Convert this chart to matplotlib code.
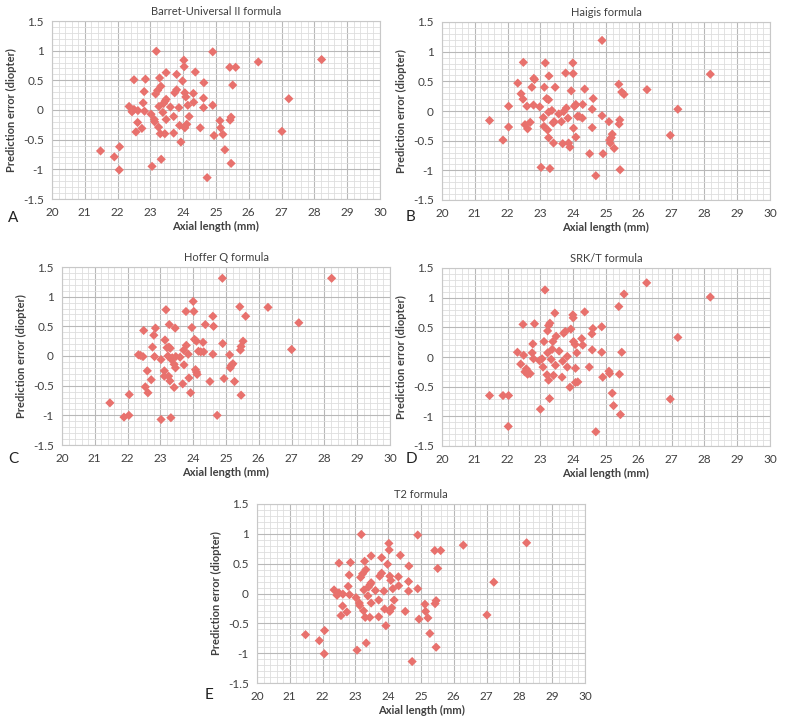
import numpy as np
import matplotlib.pyplot as plt
from matplotlib.ticker import MultipleLocator

# Barret-Universal II formula
barrett_al = [21.48, 21.90, 22.06, 22.05, 22.35, 22.44, 22.50, 22.50, 22.62, 22.61,
              22.56, 22.74, 22.78, 22.81, 22.85, 22.82, 23.18, 23.05, 23.02, 23.12,
              23.13, 23.16, 23.22, 23.28, 23.32, 23.26, 23.25, 23.30, 23.33, 23.38,
              23.40, 23.45, 23.48, 23.48, 23.44, 23.48, 23.61, 23.71, 23.71, 23.74,
              23.80, 23.80, 23.87, 23.89, 23.93, 23.98, 24.02, 24.03, 24.05, 24.08,
              24.05, 24.11, 24.14, 24.18, 24.31, 24.32, 24.37, 24.52, 24.62, 24.62,
              24.63, 24.73, 24.90, 24.90, 24.94, 25.12, 25.14, 25.21, 25.27, 25.42,
              25.60, 25.51, 25.46, 25.43, 25.46, 26.29, 27.01, 27.22, 28.22]
barrett_err = [-0.69, -0.79, -0.62, -1.01, 0.06, -0.03, 0.01, 0.51, -0.01, -0.21,
               -0.37, -0.31, 0.12, 0.31, 0.52, -0.02, 0.99, -0.95, -0.07, -0.16,
               -0.20, 0.27, 0.33, 0.54, 0.40, 0.06, -0.29, -0.40, -0.83, -0.04,
               0.11, 0.15, 0.18, -0.16, -0.40, 0.63, 0.05, -0.11, -0.39, 0.29,
               0.34, 0.60, 0.04, -0.26, -0.54, 0.49, 0.84, 0.73, 0.29, 0.22,
               -0.30, -0.24, 0.08, -0.11, 0.28, 0.13, 0.64, -0.30, 0.20, 0.04,
               0.46, -1.14, 0.08, 0.98, -0.43, -0.18, -0.30, -0.41, -0.67, 0.72,
               0.72, 0.42, -0.12, -0.17, -0.90, 0.81, -0.36, 0.19, 0.85]

# Haigis formula
haigis_al = [21.45, 21.86, 22.03, 22.03, 22.31, 22.41, 22.47, 22.48, 22.53, 22.59,
             22.61, 22.69, 22.74, 22.80, 22.82, 22.79, 22.98, 23.02, 23.09, 23.12,
             23.15, 23.11, 23.19, 23.25, 23.26, 23.22, 23.25, 23.25, 23.29, 23.35,
             23.39, 23.42, 23.45, 23.40, 23.56, 23.64, 23.71, 23.68, 23.77, 23.79,
             23.84, 23.86, 23.90, 23.94, 23.99, 24.00, 24.01, 24.04, 24.08, 24.08,
             24.13, 24.18, 24.28, 24.29, 24.35, 24.50, 24.58, 24.58, 24.61, 24.69,
             24.88, 24.88, 24.91, 25.09, 25.11, 25.13, 25.16, 25.19, 25.25, 25.39,
             25.42, 25.40, 25.43, 25.48, 25.55, 26.25, 26.96, 27.19, 28.18]
haigis_err = [-0.16, -0.49, 0.08, -0.27, 0.47, 0.29, 0.20, 0.82, -0.23, 0.08,
              -0.30, -0.19, 0.40, 0.55, 0.53, 0.10, 0.07, -0.95, -0.11, 0.40,
              0.81, -0.26, 0.21, 0.19, 0.59, -0.32, -0.45, -0.02, -0.97, 0.01,
              -0.20, -0.18, 0.40, -0.54, -0.05, -0.18, -0.01, -0.55, 0.64, 0.05,
              -0.12, -0.54, -0.61, 0.34, 0.81, 0.63, -0.29, 0.08, 0.11, -0.44,
              -0.09, -0.09, -0.12, 0.11, 0.37, -0.72, 0.03, -0.28, 0.21, -1.09,
              1.19, -0.08, -0.72, -0.18, -0.49, -0.54, -0.45, -0.39, -0.63, 0.45,
              -0.15, -0.22, -0.99, 0.32, 0.28, 0.36, -0.41, 0.03, 0.62]

# Hoffer Q formula
hoffer_al = [21.46, 21.89, 22.04, 22.05, 22.33, 22.39, 22.47, 22.49, 22.54, 22.60,
             22.62, 22.72, 22.76, 22.80, 22.85, 22.82, 23.02, 23.02, 23.12, 23.14,
             23.17, 23.12, 23.20, 23.23, 23.27, 23.25, 23.29, 23.26, 23.32, 23.30,
             23.34, 23.36, 23.42, 23.42, 23.46, 23.45, 23.47, 23.60, 23.68, 23.71,
             23.72, 23.79, 23.78, 23.85, 23.87, 23.92, 23.96, 24.00, 24.02, 24.04,
             24.10, 24.07, 24.10, 24.12, 24.16, 24.23, 24.30, 24.32, 24.37, 24.51,
             24.60, 24.62, 24.60, 24.73, 24.89, 24.90, 24.94, 25.11, 25.13, 25.16,
             25.21, 25.26, 25.42, 25.44, 25.46, 25.52, 25.46, 25.60, 26.28, 27.00,
             27.22, 28.22]
hoffer_err = [-0.79, -1.03, -1.00, -0.65, 0.02, 0.01, -0.01, 0.43, -0.52, -0.25,
              -0.62, -0.40, 0.15, 0.35, 0.47, -0.01, -1.07, -0.06, -0.25, 0.27,
              0.78, -0.34, 0.14, 0.00, 0.53, -0.34, -0.42, 0.15, -1.04, 0.13,
              -0.06, -0.03, -0.53, -0.14, -0.20, 0.47, -0.01, -0.02, -0.47, 0.10,
              -0.15, 0.18, 0.75, 0.03, -0.37, -0.62, 0.48, 0.92, 0.75, 0.28,
              0.25, -0.23, -0.27, -0.31, 0.08, 0.07, 0.23, 0.07, 0.53, -0.43,
              0.67, 0.50, 0.03, -1.00, 1.31, 0.21, -0.38, 0.02, -0.20, -0.16,
              -0.13, -0.43, 0.83, 0.10, 0.16, 0.25, -0.66, 0.67, 0.82, 0.11,
              0.56, 1.31]

# SRK/T formula
srkt_al = [21.45, 21.86, 22.03, 22.02, 22.30, 22.40, 22.47, 22.49, 22.53, 22.57,
           22.61, 22.69, 22.75, 22.77, 22.79, 22.82, 22.97, 23.00, 23.05, 23.08,
           23.11, 23.14, 23.20, 23.22, 23.25, 23.25, 23.28, 23.22, 23.29, 23.33,
           23.36, 23.38, 23.40, 23.44, 23.46, 23.48, 23.57, 23.66, 23.68, 23.71,
           23.76, 23.82, 23.82, 23.90, 23.93, 23.99, 24.00, 24.01, 24.06, 24.07,
           24.07, 24.11, 24.14, 24.26, 24.29, 24.35, 24.49, 24.57, 24.60, 24.58,
           24.69, 24.87, 24.87, 24.90, 25.09, 25.11, 25.19, 25.23, 25.39, 25.41,
           25.44, 25.48, 25.55, 26.24, 26.96, 27.19, 28.18]
srkt_err = [-0.65, -0.65, -0.65, -1.17, 0.08, -0.12, 0.55, 0.03, -0.25, -0.20,
            -0.29, -0.28, 0.07, 0.22, -0.03, 0.56, -0.06, -0.88, -0.03, -0.17,
            0.26, 1.13, -0.30, 0.44, 0.53, -0.39, -0.70, 0.07, 0.57, -0.04,
            0.13, 0.26, -0.31, 0.74, -0.14, 0.35, 0.10, -0.34, -0.07, 0.40,
            0.43, 0.01, -0.17, -0.51, 0.47, 0.71, 0.66, 0.26, 0.21, -0.19,
            -0.43, 0.07, -0.42, 0.31, 0.20, 0.76, -0.17, 0.39, 0.48, 0.12,
            -1.26, 0.51, 0.08, -0.34, -0.24, -0.28, -0.61, -0.82, 0.85, -0.29,
            -0.97, 0.08, 1.06, 1.25, -0.71, 0.33, 1.01]

# T2 formula (same scatter as Barret-Universal II in the figure)
t2_al = list(barrett_al)
t2_err = list(barrett_err)

titles = ['Barret-Universal II formula', 'Haigis formula', 'Hoffer Q formula',
          'SRK/T formula', 'T2 formula']
letters = ['A', 'B', 'C', 'D', 'E']
datasets = [(barrett_al, barrett_err), (haigis_al, haigis_err), (hoffer_al, hoffer_err),
            (srkt_al, srkt_err), (t2_al, t2_err)]

plt.rcParams['font.family'] = ['Lato', 'DejaVu Sans']

W, H = 800, 724
fig = plt.figure(figsize=(W / 100, H / 100), dpi=100)

# plot-area boxes in pixels: left, top, width, height
boxes = [(52, 21, 328, 178), (442, 22, 328, 178), (62, 267, 328, 178),
         (442, 268, 328, 178), (257, 504, 328, 179)]
letter_pos = [(8, 222), (406, 221), (8, 463), (406, 463), (205, 699)]

point_color = '#E8716D'
text_color = '#404040'

for i in range(5):
    l, t, w, h = boxes[i]
    ax = fig.add_axes([l / W, 1 - (t + h) / H, w / W, h / H])
    x, y = datasets[i]
    ax.scatter(x, y, marker='D', s=22, color=point_color, edgecolors='none', zorder=3)
    ax.set_xlim(20, 30)
    ax.set_ylim(-1.5, 1.5)
    ax.xaxis.set_major_locator(MultipleLocator(1))
    ax.xaxis.set_minor_locator(MultipleLocator(0.2))
    ax.yaxis.set_major_locator(MultipleLocator(0.5))
    ax.yaxis.set_minor_locator(MultipleLocator(0.1))
    ax.grid(True, which='major', color='#b8b8b8', linewidth=0.8)
    ax.grid(True, which='minor', color='#dedede', linewidth=0.6)
    ax.set_axisbelow(True)
    for s in ax.spines.values():
        s.set_color('#c8c8c8')
        s.set_linewidth(0.8)
    ax.tick_params(which='both', length=0, labelsize=8.5, colors=text_color, pad=6)
    ax.set_yticks([-1.5, -1, -0.5, 0, 0.5, 1, 1.5])
    ax.set_yticklabels(['-1.5', '-1', '-0.5', '0', '0.5', '1', '1.5'])
    ax.set_title(titles[i], fontsize=8, color=text_color, pad=4)
    ax.set_xlabel('Axial length (mm)', fontsize=8, fontweight='bold', color=text_color, labelpad=2)
    ax.set_ylabel('Prediction error (diopter)', fontsize=8, fontweight='bold', color=text_color, labelpad=4)
    lx, ly = letter_pos[i]
    fig.text(lx / W, 1 - ly / H, letters[i], fontsize=11, color='#222222')

fig.savefig('out.png', dpi=100)
